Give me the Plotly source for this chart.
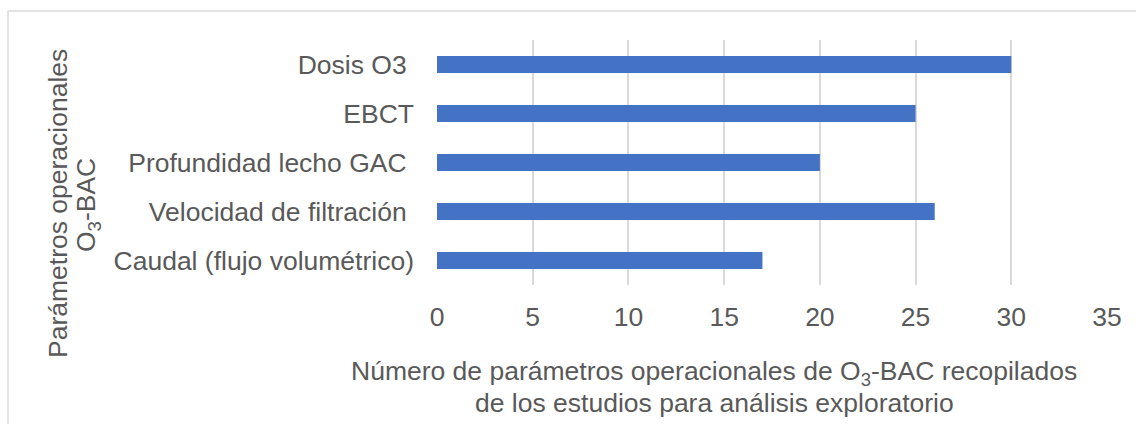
import plotly.graph_objects as go

categories = ["Dosis O3 ", "EBCT", "Profundidad lecho GAC ", "Velocidad de filtración ", "Caudal (flujo volumétrico)"]
values = [30, 25, 20, 26, 17]
x_ticks = [0, 5, 10, 15, 20, 25, 30, 35]

x_title_1 = "Número de parámetros operacionales de O<sub>3</sub>-BAC recopilados"
x_title_2 = "de los estudios para análisis exploratorio"
y_title_1 = "Parámetros operacionales"
y_title_2 = "O<sub>3</sub>-BAC"

W, H = 1136, 424
L, R, T, B = 437, 1107, 40, 285
pw, ph = R - L, B - T

def px(p):
    return (p - L) / pw

def py(p):
    return (B - p) / ph

# keep trailing spaces visible (non-breaking)
labels = [c[:-1] + "\u00a0" if c.endswith(" ") else c for c in categories]

FONT = "Liberation Sans, Arial, sans-serif"
GRAY = "#595959"
FS = 26.5

fig = go.Figure(go.Bar(
    x=values, y=labels, orientation="h",
    marker=dict(color="#4472C4", line=dict(width=0)),
))

fig.update_layout(
    width=W, height=H,
    margin=dict(l=L, r=W - R, t=T, b=H - B),
    paper_bgcolor="white", plot_bgcolor="white",
    bargap=0.65,
    showlegend=False,
    font=dict(family=FONT, size=FS, color=GRAY),
)
fig.update_xaxes(
    range=[0, 35], tickvals=x_ticks, showgrid=True, gridcolor="#d9d9d9", gridwidth=1.5,
    zeroline=False, showline=False, ticks="", ticklabelstandoff=13,
    tickfont=dict(family=FONT, size=FS, color=GRAY),
)
fig.update_yaxes(
    categoryorder="array", categoryarray=labels, autorange="reversed",
    showgrid=False, zeroline=False, showline=False, ticks="", ticklabelstandoff=22,
    tickfont=dict(family=FONT, size=FS, color=GRAY),
)

ann = [
    dict(text=x_title_1, x=px(714), y=py(373)),
    dict(text=x_title_2, x=px(714), y=py(403)),
    dict(text=y_title_1, x=px(58), y=py(204), textangle=-90),
    dict(text=y_title_2, x=px(88), y=py(205), textangle=-90),
]
for a in ann:
    fig.add_annotation(xref="paper", yref="paper", showarrow=False,
                       xanchor="center", yanchor="middle",
                       font=dict(family=FONT, size=FS, color=GRAY), **a)

# chart border (top and left visible)
fig.add_shape(type="line", xref="paper", yref="paper",
              x0=px(8), x1=px(1140), y0=py(11), y1=py(11),
              line=dict(color="#d9d9d9", width=1.5))
fig.add_shape(type="line", xref="paper", yref="paper",
              x0=px(8), x1=px(8), y0=py(11), y1=py(430),
              line=dict(color="#d9d9d9", width=1.5))

fig.write_html("out.html", config={"displayModeBar": False},
               post_script="document.body.style.margin='0';")
